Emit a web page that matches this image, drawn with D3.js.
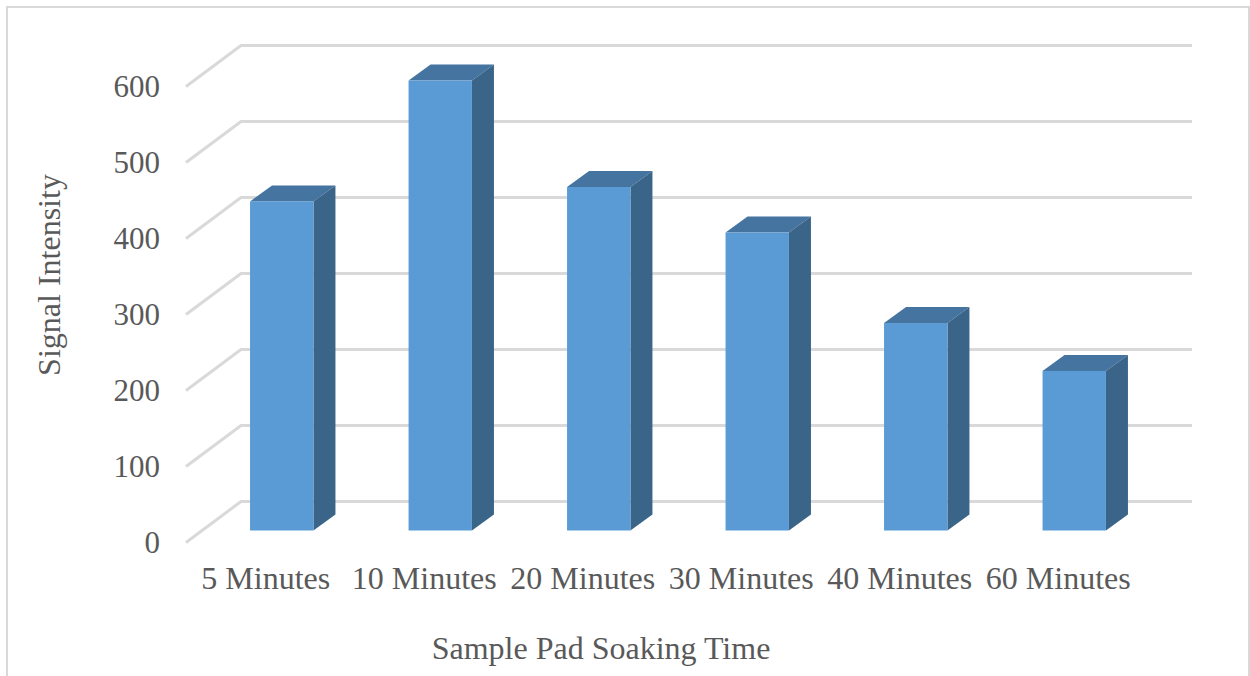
<!DOCTYPE html>
<html>
<head>
<meta charset="utf-8">
<script src="https://cdn.jsdelivr.net/npm/d3@7"></script>
<style>
  body { margin: 0; background: #fff; }
  svg { display: block; }
  text { font-family: "Liberation Serif", serif; fill: #595959; }
  .axis text { font-size: 32px; fill: #595959; }
  .axis.yaxis text { font-size: 31px; }
  .title { font-size: 32px; }
</style>
</head>
<body>
<svg id="chart" width="1250" height="676"></svg>
<script>
const categories = ["5 Minutes", "10 Minutes", "20 Minutes", "30 Minutes", "40 Minutes", "60 Minutes"];
const values = [433, 592, 452, 392, 273, 210];
const yTicks = [0, 100, 200, 300, 400, 500, 600];

const svg = d3.select("#chart");

// frame, bottom edge is cut off by the picture
svg.append("path")
    .attr("d", "M7,676V7H1249V676")
    .attr("fill", "none")
    .attr("stroke", "#d9d9d9")
    .attr("stroke-width", 2);

// 3d floor depth of the chart and of the bars
const floorDx = 55, floorDy = -41;
const barShiftX = 16.5, barShiftY = -12;
const barDx = 22, barDy = -16;

// scales sit on the front plane
const x = d3.scaleBand().domain(categories).range([186, 1137]).paddingInner(0.6).paddingOuter(0.3);
const y = d3.scaleLinear().domain([0, 600]).range([542.5, 86.5]);

// gridlines
const grid = svg.append("g");
grid.selectAll("path")
    .data(yTicks)
    .join("path")
    .attr("d", d => `M186,${y(d)}L${186 + floorDx},${y(d) + floorDy}H${1137 + floorDx}`)
    .attr("fill", "none")
    .attr("stroke", "#d9d9d9")
    .attr("stroke-width", 3);

// bars
const bars = svg.append("g").selectAll("g")
    .data(categories.map((c, i) => ({c: c, v: values[i]})))
    .join("g")
    .attr("transform", `translate(${barShiftX},${barShiftY})`);

bars.append("path")
    .attr("fill", "#44749f")
    .attr("d", d => {
        const x0 = x(d.c), x1 = x0 + x.bandwidth(), t = y(d.v);
        return `M${x0},${t}L${x0 + barDx},${t + barDy}H${x1 + barDx}L${x1},${t}Z`;
    });
bars.append("path")
    .attr("fill", "#3a6488")
    .attr("d", d => {
        const x1 = x(d.c) + x.bandwidth(), t = y(d.v), b = y(0);
        return `M${x1},${t}L${x1 + barDx},${t + barDy}V${b + barDy}L${x1},${b}Z`;
    });
bars.append("rect")
    .attr("fill", "#5b9bd5")
    .attr("x", d => x(d.c))
    .attr("y", d => y(d.v))
    .attr("width", x.bandwidth())
    .attr("height", d => y(0) - y(d.v));

// axes
const yAxis = d3.axisLeft(y).tickValues(yTicks).tickSize(0).tickPadding(0);
svg.append("g").attr("class", "axis yaxis")
    .attr("transform", "translate(160,0)")
    .call(yAxis)
    .call(g => g.select(".domain").remove());

const xAxis = d3.axisBottom(x).tickSize(0).tickPadding(0);
svg.append("g").attr("class", "axis")
    .attr("transform", "translate(0.5,566)")
    .call(xAxis)
    .call(g => g.select(".domain").remove());

// titles
svg.append("text")
    .attr("class", "title")
    .attr("x", 601)
    .attr("y", 659)
    .attr("text-anchor", "middle")
    .text("Sample Pad Soaking Time");

svg.append("text")
    .attr("class", "title")
    .attr("transform", "translate(60,275) rotate(270)")
    .attr("text-anchor", "middle")
    .text("Signal Intensity");
</script>
</body>
</html>
